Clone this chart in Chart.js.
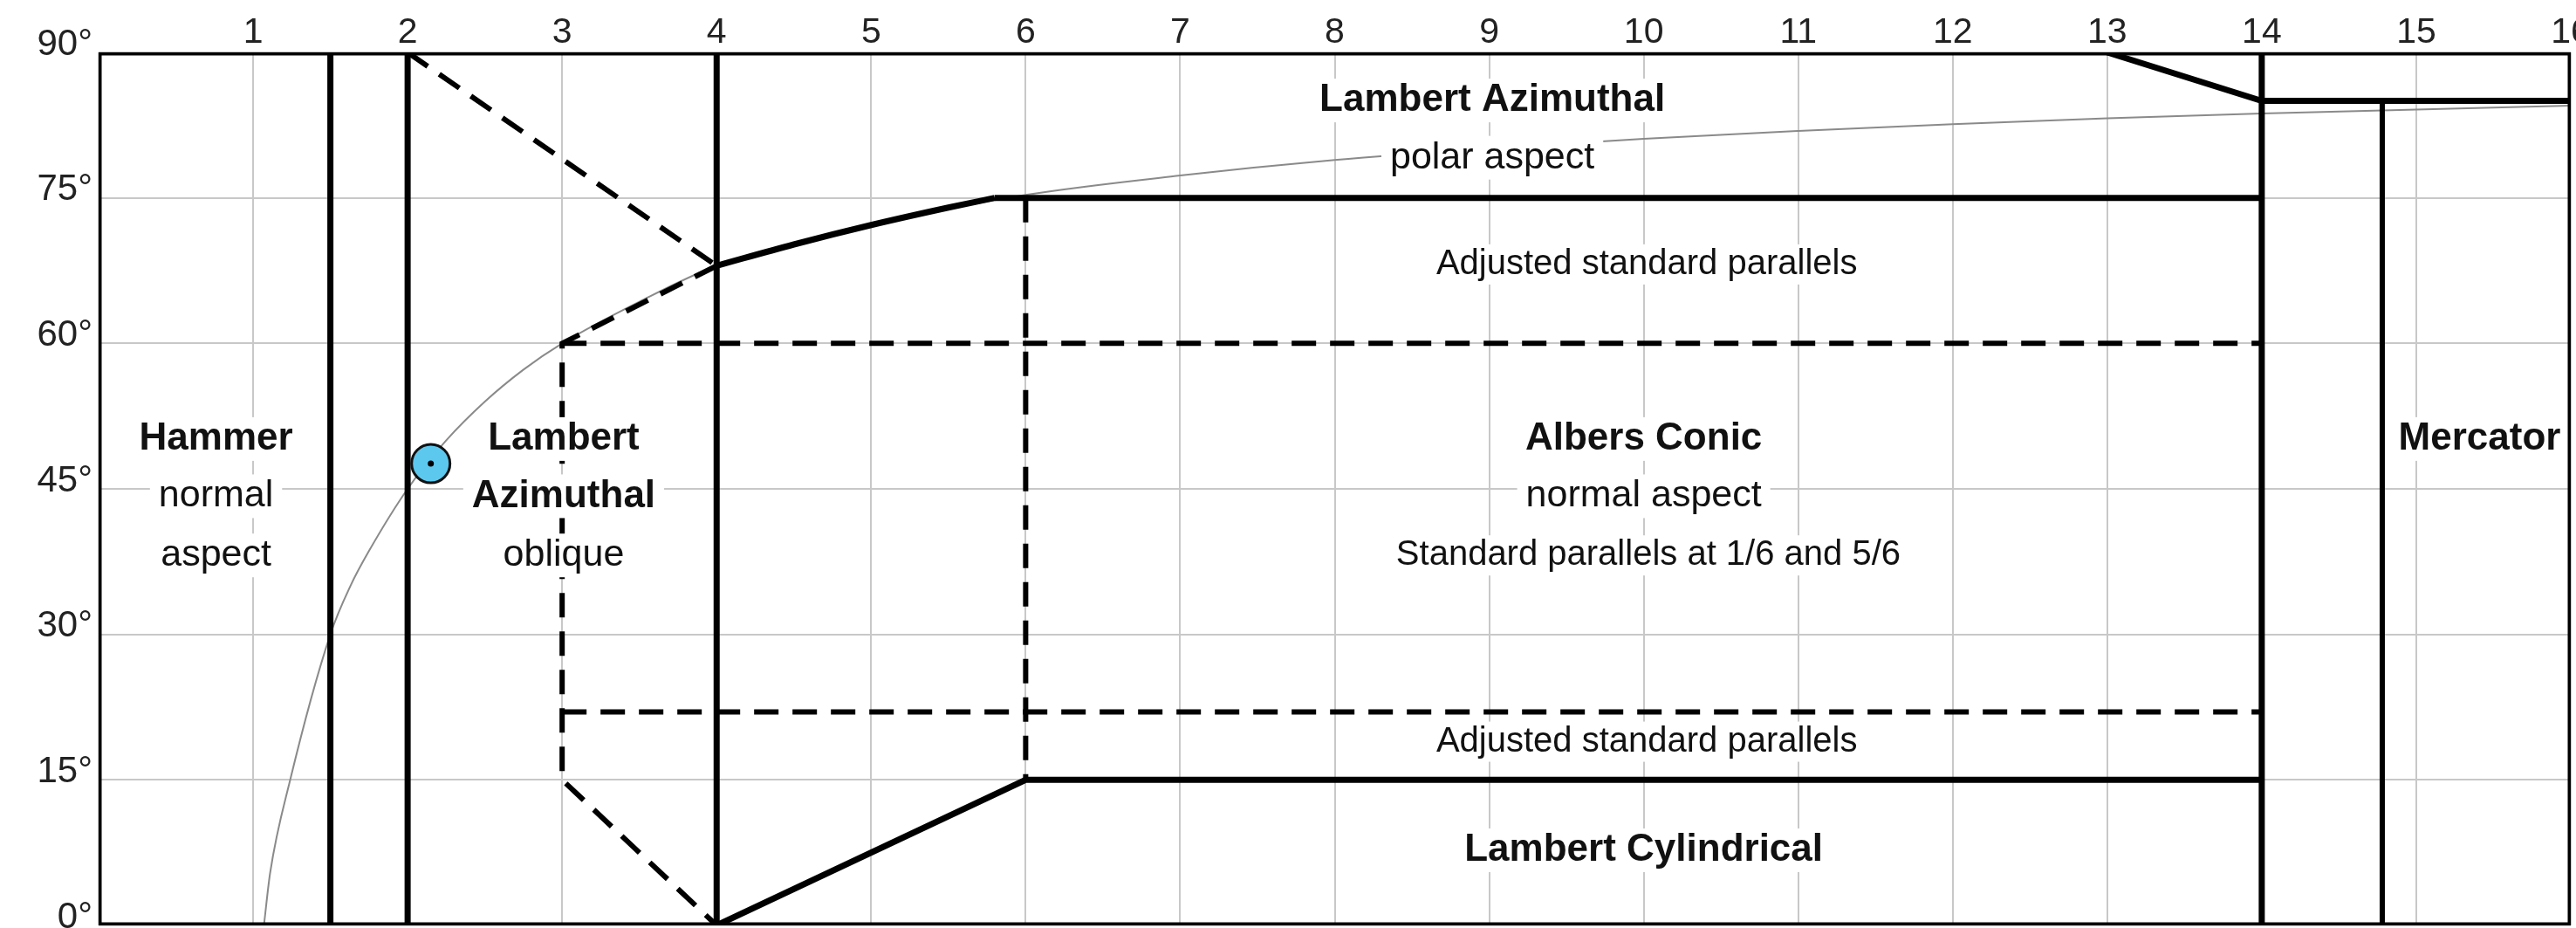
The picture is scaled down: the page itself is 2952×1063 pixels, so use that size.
<!DOCTYPE html>
<html>
<head>
<meta charset="utf-8">
<script src="https://cdn.jsdelivr.net/npm/chart.js@4.4.1/dist/chart.umd.min.js"></script>
<style>
  html, body { margin: 0; padding: 0; background: #fff; }
  #wrap { width: 2952px; height: 1063px; }
</style>
</head>
<body>
<div id="wrap"><canvas id="projectionChart"></canvas></div>
<script>
// map scale along the top, latitude on the left
const scaleTicks = [0, 1, 2, 3, 4, 5, 6, 7, 8, 9, 10, 11, 12, 13, 14, 15, 16];
const latitudeTicks = [0, 15, 30, 45, 60, 75, 90];

// thin grey transition curve
const curveX = [1.07, 1.11, 1.24, 1.5, 1.63, 1.75, 2, 2.25, 2.5, 2.75, 3, 3.5, 4, 5, 6, 7, 8, 9, 10, 11, 12, 13, 14, 15, 16];
const curveY = [0, 5.4, 15, 30, 35, 38.6, 45, 50, 54, 57.3, 60, 64.3, 68, 72.2, 75.3, 77.3, 78.9, 80.1, 81.1, 81.9, 82.6, 83.2, 83.7, 84.1, 84.5];

// frame and full height dividers
const frameX = [0, 0, 16, 16, 0];
const frameY = [0, 90, 90, 0, 0];
const dividerX = [1.5, 2, 4, 14];
const dividerY = [0, 90];

// solid boundaries
const polarCapX = [13, 14, 16];
const polarCapY = [90, 85, 85];
const mercatorX = [14.78, 14.78];
const mercatorY = [0, 85];
const polarArcX = [4, 4.5, 5, 5.5, 5.8];
const polarArcY = [68, 70.2, 72.2, 74, 75];
const polarBaseX = [5.8, 14];
const polarBaseY = [75, 75];
const cylinderTopX = [4, 6, 14];
const cylinderTopY = [0, 15, 15];

// dashed boundaries
const obliqueTopX = [2, 4];
const obliqueTopY = [90, 68];
const obliqueEdgeX = [4, 3, 3, 4];
const obliqueEdgeY = [68, 60, 15, 0];
const upperParallelX = [3, 14];
const upperParallelY = [60, 60];
const lowerParallelX = [3, 14];
const lowerParallelY = [22, 22];
const conicEdgeX = [6, 6];
const conicEdgeY = [75, 15];

// current position marker
const markerX = [2.15];
const markerY = [47.6];

// region labels
const labelText = ['Lambert Azimuthal', 'polar aspect', 'Adjusted standard parallels', 'Albers Conic', 'normal aspect',
  'Standard parallels at 1/6 and 5/6', 'Adjusted standard parallels', 'Lambert Cylindrical',
  'Hammer', 'normal', 'aspect', 'Lambert', 'Azimuthal', 'oblique', 'Mercator'];
const labelX = [9.02, 9.02, 10.02, 10, 10, 10.03, 10.02, 10, 0.76, 0.76, 0.76, 3.01, 3.01, 3.01, 15.41];
const labelY = [85.4, 79.5, 68.5, 50.5, 44.6, 38.5, 19.3, 8.1, 50.5, 44.6, 38.5, 50.5, 44.6, 38.5, 50.5];
const labelKind = ['b', 'n', 's', 'b', 'n', 's', 's', 'b', 'b', 'n', 'n', 'b', 'b', 'n', 'b'];

const family = '"Liberation Sans", Arial, Helvetica, sans-serif';
const labelFont = { b: 'bold 44px ' + family, n: '43px ' + family, s: '40px ' + family };
const labelBox = { b: 50, n: 50, s: 46 };

function pts(xs, ys) {
	return xs.map((x, i) => ({ x: x, y: ys[i] }));
}
function solid(xs, ys) {
	return { data: pts(xs, ys), showLine: true, borderColor: '#000', borderWidth: 7,
		pointRadius: 0, fill: false, tension: 0, order: 1, borderJoinStyle: 'miter' };
}
function dashed(xs, ys) {
	var d = solid(xs, ys);
	d.borderWidth = 6;
	d.borderDash = [28, 16];
	return d;
}

var datasets = [];
// grey curve goes underneath everything
datasets.push({ data: pts(curveX, curveY), showLine: true, borderColor: '#8a8a8a', borderWidth: 2,
	pointRadius: 0, cubicInterpolationMode: 'monotone', order: 5 });
datasets.push(solid(frameX, frameY));
dividerX.forEach(function(x) { datasets.push(solid([x, x], dividerY)); });
datasets.push(solid(polarCapX, polarCapY));
var merc = solid(mercatorX, mercatorY);
merc.borderWidth = 6;
datasets.push(merc);
var arc = solid(polarArcX, polarArcY);
arc.cubicInterpolationMode = 'monotone';
datasets.push(arc);
datasets.push(solid(polarBaseX, polarBaseY));
datasets.push(solid(cylinderTopX, cylinderTopY));
datasets.push(dashed(obliqueTopX, obliqueTopY));
datasets.push(dashed(obliqueEdgeX, obliqueEdgeY));
datasets.push(dashed(upperParallelX, upperParallelY));
datasets.push(dashed(lowerParallelX, lowerParallelY));
datasets.push(dashed(conicEdgeX, conicEdgeY));
datasets.push({ data: pts(markerX, markerY), pointRadius: 22, pointBackgroundColor: '#5cc8ee',
	pointBorderColor: '#111', pointBorderWidth: 3, order: 0 });
datasets.push({ data: pts(markerX, markerY), pointRadius: 3.5, pointBackgroundColor: '#000',
	pointBorderWidth: 0, order: -1 });

// draws the region names on white boxes so grid and curve are interrupted
const regionLabels = {
	id: 'regionLabels',
	afterDatasetsDraw: function(chart) {
		var ctx = chart.ctx;
		var xs = chart.scales.x, ys = chart.scales.y;
		var area = chart.chartArea;
		ctx.save();
		ctx.textAlign = 'center';
		ctx.textBaseline = 'middle';
		labelText.forEach(function(t, i) {
			var k = labelKind[i];
			ctx.font = labelFont[k];
			var w = ctx.measureText(t).width;
			var px = xs.getPixelForValue(labelX[i]);
			var py = ys.getPixelForValue(labelY[i]) + 4;
			// keep the box off the frame
			var left = Math.max(px - w / 2 - 10, area.left + 5);
			var right = Math.min(px + w / 2 + 10, area.right - 5);
			ctx.fillStyle = '#fff';
			ctx.fillRect(left, py - labelBox[k] / 2, right - left, labelBox[k]);
			ctx.fillStyle = '#111';
			ctx.fillText(t, px, py);
		});
		ctx.restore();
	}
};

new Chart(document.getElementById('projectionChart'), {
	type: 'scatter',
	data: { datasets: datasets },
	options: {
		responsive: true,
		maintainAspectRatio: false,
		animation: false,
		layout: { autoPadding: false, padding: { left: 0, top: 0, right: 6, bottom: 3 } },
		plugins: { legend: { display: false }, tooltip: { enabled: false } },
		scales: {
			x: {
				type: 'linear', position: 'top', min: 0, max: 16,
				afterBuildTicks: function(s) { s.ticks = scaleTicks.map(function(v) { return { value: v }; }); },
				ticks: {
					autoSkip: false, maxRotation: 0, padding: -2, color: '#222',
					font: { family: family, size: 41 },
					callback: function(v) { return v === 0 ? '' : v; }
				},
				grid: { color: '#c8c8c8', lineWidth: 2, drawTicks: false },
				border: { display: false },
				afterFit: function(s) { s.height = 60; s.paddingLeft = 0; s.paddingRight = 0; }
			},
			y: {
				type: 'linear', min: 0, max: 90,
				afterBuildTicks: function(s) { s.ticks = latitudeTicks.map(function(v) { return { value: v }; }); },
				ticks: {
					padding: 7, labelOffset: -9, color: '#222',
					font: { family: family, size: 42 },
					callback: function(v) { return v + '\u00b0'; }
				},
				grid: { color: '#c8c8c8', lineWidth: 2, drawTicks: false },
				border: { display: false },
				afterFit: function(s) { s.width = 113; s.paddingTop = 0; s.paddingBottom = 0; }
			}
		}
	},
	plugins: [regionLabels]
});
</script>
</body>
</html>
